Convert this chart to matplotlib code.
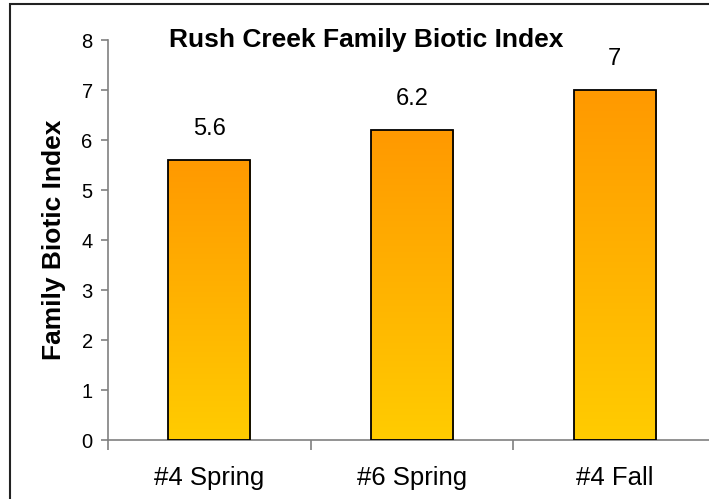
import numpy as np
import matplotlib
matplotlib.use('Agg')
import matplotlib.pyplot as plt
from matplotlib.colors import LinearSegmentedColormap
from matplotlib.patches import Rectangle

# chart data
categories = ['#4 Spring', '#6 Spring', '#4 Fall']
values = [5.6, 6.2, 7]
value_labels = ['5.6', '6.2', '7']
y_ticks = [0, 1, 2, 3, 4, 5, 6, 7, 8]

plt.rcParams['font.family'] = ['Liberation Sans', 'DejaVu Sans']

W, H = 709, 499
fig = plt.figure(figsize=(W / 100, H / 100), dpi=100)

# outer chart border (cut off at right and bottom like the reference)
fig.patches.append(Rectangle((10 / W, -0.1), 1.2, 1 - 4 / H + 0.1,
                             transform=fig.transFigure, fill=False,
                             edgecolor='#222222', linewidth=1.5))

# plot area: x from 108px, 3 categories of ~202.7px, y 0..8 between 440px and 40px
ax = fig.add_axes([108 / W, 1 - 440 / H, 3 * 202.7 / W, 400 / H])
ax.set_facecolor('none')

cmap = LinearSegmentedColormap.from_list('fbi', ['#FFCC00', '#FF9900'])
grad = np.linspace(0, 1, 256).reshape(-1, 1)
bar_w = 0.405
for i, v in enumerate(values):
    ax.imshow(grad, extent=(i - bar_w / 2, i + bar_w / 2, 0, v), origin='lower',
              aspect='auto', cmap=cmap, zorder=2)
    ax.bar(i, v, width=bar_w, facecolor='none', edgecolor='black',
           linewidth=1.3, zorder=3)
    ax.text(i, v + 0.4, value_labels[i], ha='center', va='bottom',
            fontsize=17)

ax.set_xlim(-0.5, 2.5)
ax.set_ylim(0, 8)

for side in ['top', 'right']:
    ax.spines[side].set_visible(False)
for side in ['left', 'bottom']:
    ax.spines[side].set_color('#808080')
    ax.spines[side].set_linewidth(1.2)

ax.set_yticks(y_ticks)
ax.tick_params(axis='y', direction='out', length=5, width=1.2,
               color='#808080', labelsize=14.5, pad=6)
ax.set_xticks(range(len(categories)))
ax.set_xticklabels(categories)
ax.tick_params(axis='x', which='major', length=0, labelsize=18.5, pad=19)
ax.set_xticks([-0.5, 0.5, 1.5, 2.5], minor=True)
ax.tick_params(axis='x', which='minor', direction='out', length=7, width=1.2,
               color='#808080')

ax.set_ylabel('Family Biotic Index', fontsize=19, fontweight='bold',
              labelpad=11)

fig.text(366 / W, 1 - 40 / H, 'Rush Creek Family Biotic Index',
         ha='center', va='center', fontsize=19, fontweight='bold')

fig.savefig('out.png', dpi=100)
